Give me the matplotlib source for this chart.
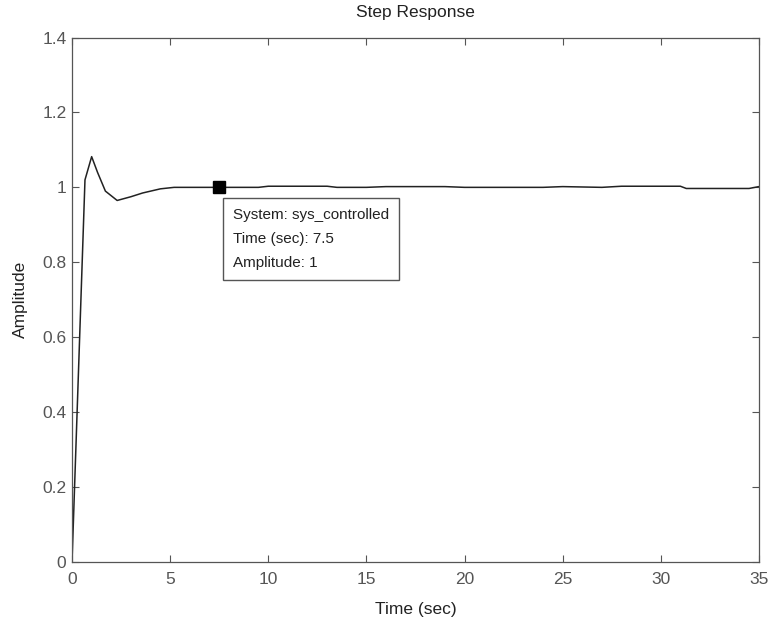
import matplotlib.pyplot as plt
import numpy as np

plt.rcParams['font.family'] = ['Liberation Sans', 'DejaVu Sans']

# step response samples
time_sec = [0.0, 0.66, 1.0, 1.3, 1.7, 2.3, 3.0, 3.6, 4.5, 5.2, 7.5, 9.5, 10.0, 13.0, 13.5,
            15.0, 16.0, 19.0, 20.0, 24.0, 25.0, 27.0, 28.0, 31.0, 31.3, 34.5, 35.0]
amplitude = [0.0, 1.02, 1.082, 1.04, 0.99, 0.965, 0.975, 0.985, 0.996, 1.0, 1.0, 1.0, 1.003,
             1.003, 1.0, 1.0, 1.002, 1.002, 1.0, 1.0, 1.002, 1.0, 1.003, 1.003, 0.997, 0.997, 1.002]

tip_time = 7.5
tip_amp = 1.0
tip_label = "System: sys_controlled\nTime (sec): 7.5\nAmplitude: 1"

x_ticks = [0, 5, 10, 15, 20, 25, 30, 35]
y_ticks = [0, 0.2, 0.4, 0.6, 0.8, 1.0, 1.2, 1.4]
y_tick_labels = ["0", "0.2", "0.4", "0.6", "0.8", "1", "1.2", "1.4"]

fig = plt.figure(figsize=(7.72, 6.22), dpi=100)
ax = fig.add_axes([0.0933, 0.0965, 0.8897, 0.8432])

ax.plot(time_sec, amplitude, color="#222222", linewidth=1.1)
ax.plot([tip_time], [tip_amp], marker="s", markersize=8.5, color="black", linestyle="none")

ax.annotate(tip_label, xy=(tip_time, tip_amp), xytext=(14, -21), textcoords="offset pixels",
            ha="left", va="top", fontsize=11, color="#222222", linespacing=1.9,
            bbox=dict(boxstyle="square,pad=0.65", facecolor="white", edgecolor="#555555", linewidth=1))

ax.set_xlim(0, 35)
ax.set_ylim(0, 1.4)
ax.set_xticks(x_ticks)
ax.set_yticks(y_ticks)
ax.set_yticklabels(y_tick_labels)
ax.tick_params(direction="in", top=True, right=True, length=5, width=0.8,
               colors="#555555", labelsize=12.5)
ax.tick_params(axis="x", pad=7)
ax.tick_params(axis="y", pad=4)
for s in ax.spines.values():
  s.set_color("#555555")
  s.set_linewidth(0.9)

ax.set_title("Step Response", fontsize=12.5, color="#222222", pad=15)
ax.set_xlabel("Time (sec)", fontsize=12.5, color="#222222", labelpad=11)
ax.set_ylabel("Amplitude", fontsize=12.5, color="#222222", labelpad=10)

fig.savefig("out.png", dpi=100)
